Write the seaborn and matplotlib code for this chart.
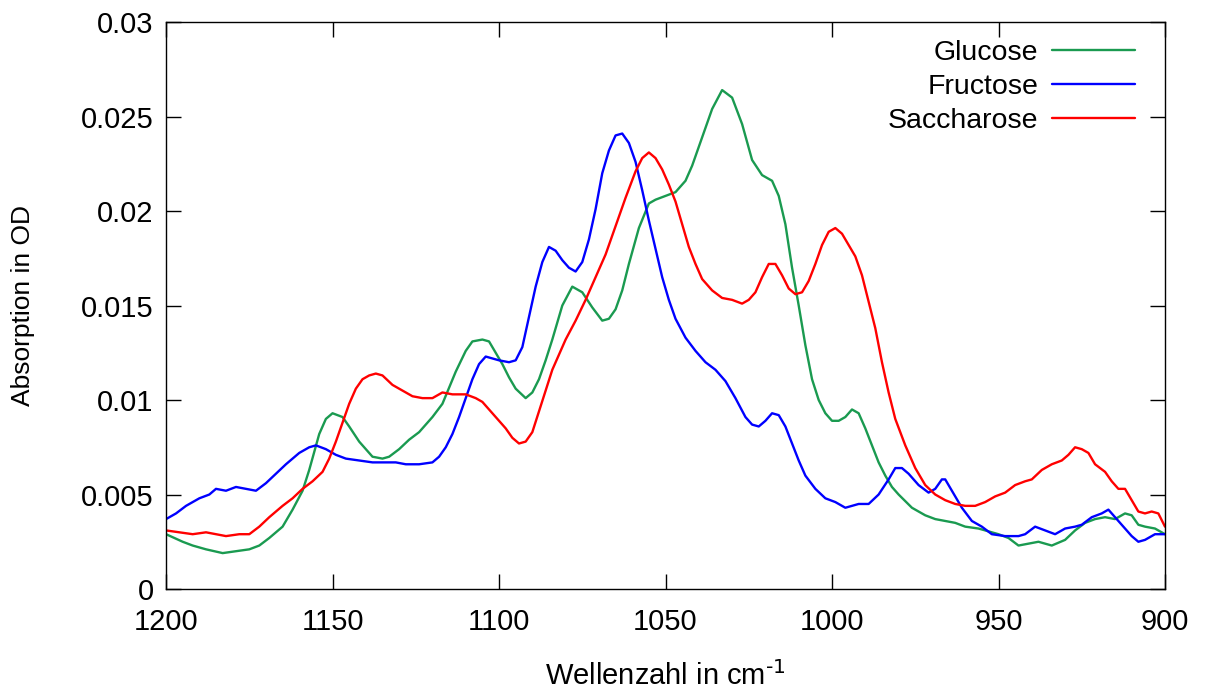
'''IR-Spektren von Glucose, Fructose und Saccharose'''

import matplotlib
matplotlib.use('Agg')
import matplotlib.pyplot as plt
from matplotlib.ticker import FuncFormatter, MultipleLocator
import seaborn as sns
import pandas as pd

# Glucose (gruen)
wn_glc = [1200, 1195, 1192, 1188, 1183, 1179, 1175, 1172, 1169, 1165, 1162, 1159, 1157, 1154,
          1152, 1150, 1147, 1145, 1142, 1138, 1135, 1133, 1130, 1127, 1124, 1120, 1117, 1113,
          1110, 1108, 1105, 1103, 1101, 1099, 1097, 1095, 1092, 1090, 1088, 1086, 1084, 1081,
          1078, 1075, 1072, 1069, 1067, 1065, 1063, 1061, 1058, 1055, 1053, 1050, 1047, 1044,
          1042, 1040, 1038, 1036, 1033, 1030, 1027, 1024, 1021, 1018, 1016, 1014, 1012, 1010,
          1008, 1006, 1004, 1002, 1000, 998, 996, 994, 992, 990, 988, 986, 984, 982, 980, 976,
          972, 969, 966, 963, 960, 956, 952, 950, 947, 944, 941, 938, 934, 930, 927, 924, 921,
          918, 915, 912, 910, 908, 906, 903, 900]
od_glc = [0.0029, 0.0025, 0.0023, 0.0021, 0.0019, 0.0020, 0.0021, 0.0023, 0.0027, 0.0033, 0.0042,
          0.0052, 0.0063, 0.0082, 0.0090, 0.0093, 0.0091, 0.0086, 0.0078, 0.0070, 0.0069, 0.0070,
          0.0074, 0.0079, 0.0083, 0.0091, 0.0098, 0.0115, 0.0126, 0.0131, 0.0132, 0.0131, 0.0125,
          0.0119, 0.0112, 0.0106, 0.0101, 0.0104, 0.0111, 0.0121, 0.0132, 0.0150, 0.0160, 0.0157,
          0.0149, 0.0142, 0.0143, 0.0148, 0.0158, 0.0172, 0.0191, 0.0204, 0.0206, 0.0208, 0.0210,
          0.0216, 0.0224, 0.0234, 0.0244, 0.0254, 0.0264, 0.0260, 0.0246, 0.0227, 0.0219, 0.0216,
          0.0208, 0.0193, 0.0170, 0.0150, 0.0129, 0.0111, 0.0100, 0.0093, 0.0089, 0.0089, 0.0091,
          0.0095, 0.0093, 0.0085, 0.0076, 0.0067, 0.0060, 0.0054, 0.0050, 0.0043, 0.0039, 0.0037,
          0.0036, 0.0035, 0.0033, 0.0032, 0.0030, 0.0029, 0.0027, 0.0023, 0.0024, 0.0025, 0.0023,
          0.0026, 0.0031, 0.0035, 0.0037, 0.0038, 0.0037, 0.0040, 0.0039, 0.0034, 0.0033, 0.0032,
          0.0029]

# Fructose (blau)
wn_fru = [1200, 1197, 1194, 1190, 1187, 1185, 1182, 1179, 1176, 1173, 1170, 1167, 1164, 1160,
          1157, 1155, 1152, 1149, 1146, 1142, 1138, 1134, 1131, 1128, 1124, 1120, 1118, 1116,
          1114, 1112, 1110, 1108, 1106, 1104, 1102, 1100, 1097, 1095, 1093, 1091, 1089, 1087,
          1085, 1083, 1081, 1079, 1077, 1075, 1073, 1071, 1069, 1067, 1065, 1063, 1061, 1059,
          1057, 1055, 1053, 1051, 1049, 1047, 1044, 1041, 1038, 1035, 1032, 1029, 1026, 1024,
          1022, 1020, 1018, 1016, 1014, 1012, 1010, 1008, 1005, 1002, 999, 996, 994, 992, 989,
          986, 983, 981, 979, 977, 974, 971, 969, 967, 966, 964, 961, 958, 955, 952, 948, 944,
          942, 939, 936, 933, 930, 927, 925, 922, 919, 917, 915, 912, 910, 908, 906, 903, 900]
od_fru = [0.0037, 0.0040, 0.0044, 0.0048, 0.0050, 0.0053, 0.0052, 0.0054, 0.0053, 0.0052, 0.0056,
          0.0061, 0.0066, 0.0072, 0.0075, 0.0076, 0.0074, 0.0071, 0.0069, 0.0068, 0.0067, 0.0067,
          0.0067, 0.0066, 0.0066, 0.0067, 0.0070, 0.0075, 0.0082, 0.0091, 0.0101, 0.0111, 0.0119,
          0.0123, 0.0122, 0.0121, 0.0120, 0.0121, 0.0128, 0.0144, 0.0160, 0.0173, 0.0181, 0.0179,
          0.0174, 0.0170, 0.0168, 0.0173, 0.0185, 0.0201, 0.0220, 0.0232, 0.0240, 0.0241, 0.0236,
          0.0226, 0.0211, 0.0195, 0.0180, 0.0165, 0.0153, 0.0143, 0.0133, 0.0126, 0.0120, 0.0116,
          0.0110, 0.0101, 0.0091, 0.0087, 0.0086, 0.0089, 0.0093, 0.0092, 0.0086, 0.0077, 0.0068,
          0.0060, 0.0053, 0.0048, 0.0046, 0.0043, 0.0044, 0.0045, 0.0045, 0.0050, 0.0058, 0.0064,
          0.0064, 0.0061, 0.0055, 0.0051, 0.0053, 0.0058, 0.0058, 0.0052, 0.0043, 0.0036, 0.0033,
          0.0029, 0.0028, 0.0028, 0.0029, 0.0033, 0.0031, 0.0029, 0.0032, 0.0033, 0.0034, 0.0038,
          0.0040, 0.0042, 0.0038, 0.0032, 0.0028, 0.0025, 0.0026, 0.0029, 0.0029]

# Saccharose (rot)
wn_sac = [1200, 1196, 1192, 1188, 1185, 1182, 1178, 1175, 1172, 1169, 1165, 1162, 1159, 1156,
          1153, 1151, 1149, 1147, 1145, 1143, 1141, 1139, 1137, 1135, 1132, 1129, 1126, 1123,
          1120, 1117, 1114, 1110, 1107, 1105, 1103, 1101, 1098, 1096, 1094, 1092, 1090, 1088,
          1086, 1084, 1082, 1080, 1077, 1074, 1071, 1068, 1065, 1062, 1059, 1057, 1055, 1053,
          1051, 1049, 1047, 1045, 1043, 1041, 1039, 1036, 1033, 1030, 1027, 1025, 1023, 1021,
          1019, 1017, 1015, 1013, 1011, 1009, 1007, 1005, 1003, 1001, 999, 997, 995, 993, 991,
          989, 987, 985, 983, 981, 978, 975, 972, 969, 966, 963, 960, 957, 954, 951, 948, 945,
          942, 940, 937, 934, 931, 929, 927, 925, 923, 921, 918, 916, 914, 912, 910, 908, 906,
          904, 902, 900]
od_sac = [0.0031, 0.0030, 0.0029, 0.0030, 0.0029, 0.0028, 0.0029, 0.0029, 0.0033, 0.0038, 0.0044,
          0.0048, 0.0053, 0.0057, 0.0062, 0.0069, 0.0078, 0.0088, 0.0098, 0.0106, 0.0111, 0.0113,
          0.0114, 0.0113, 0.0108, 0.0105, 0.0102, 0.0101, 0.0101, 0.0104, 0.0103, 0.0103, 0.0101,
          0.0099, 0.0095, 0.0091, 0.0085, 0.0080, 0.0077, 0.0078, 0.0083, 0.0094, 0.0105, 0.0116,
          0.0124, 0.0132, 0.0142, 0.0153, 0.0165, 0.0177, 0.0192, 0.0207, 0.0221, 0.0228, 0.0231,
          0.0228, 0.0222, 0.0214, 0.0205, 0.0193, 0.0181, 0.0172, 0.0164, 0.0158, 0.0154, 0.0153,
          0.0151, 0.0153, 0.0157, 0.0165, 0.0172, 0.0172, 0.0166, 0.0159, 0.0156, 0.0157, 0.0163,
          0.0172, 0.0182, 0.0189, 0.0191, 0.0188, 0.0182, 0.0176, 0.0166, 0.0152, 0.0138, 0.0120,
          0.0104, 0.0090, 0.0076, 0.0064, 0.0055, 0.0050, 0.0047, 0.0045, 0.0044, 0.0044, 0.0046,
          0.0049, 0.0051, 0.0055, 0.0057, 0.0058, 0.0063, 0.0066, 0.0068, 0.0071, 0.0075, 0.0074,
          0.0072, 0.0066, 0.0062, 0.0057, 0.0053, 0.0053, 0.0047, 0.0041, 0.0040, 0.0041, 0.0040,
          0.0033]

names = ['Glucose', 'Fructose', 'Saccharose']
colors = ['#1a9a50', '#0000ff', '#ff0000']

#Build long-form table
frames = []
for name, wn, od in zip(names, [wn_glc, wn_fru, wn_sac], [od_glc, od_fru, od_sac]):
    frames.append(pd.DataFrame({'Wellenzahl': wn, 'OD': od, 'Zucker': name}))
df = pd.concat(frames, ignore_index=True)

#Style
sns.set_style('ticks')
plt.rcParams['font.family'] = ['Liberation Sans', 'DejaVu Sans']
plt.rcParams['axes.linewidth'] = 1.0
plt.rcParams['text.color'] = 'black'
plt.rcParams['axes.labelcolor'] = 'black'

fig = plt.figure(figsize=(12.05, 6.95), dpi=100)
ax = fig.add_axes([0.1378, 0.1525, 0.829, 0.8158])

sns.lineplot(data=df, x='Wellenzahl', y='OD', hue='Zucker', hue_order=names,
             palette=colors, linewidth=1.7, ax=ax, legend=False)

ax.set_xlim(1200, 900)
ax.set_ylim(0, 0.03)
ax.xaxis.set_major_locator(MultipleLocator(50))
ax.yaxis.set_major_locator(MultipleLocator(0.005))
ax.yaxis.set_major_formatter(FuncFormatter(lambda v, p: '%g' % round(v, 4)))
ax.tick_params(direction='in', length=11, width=1, top=True, right=True,
               labelsize=21, colors='black')
ax.tick_params(axis='x', pad=14)
ax.tick_params(axis='y', pad=9)
for s in ax.spines.values():
    s.set_color('black')

ax.set_xlabel('Wellenzahl in cm$^{\\text{-}1}$', fontsize=21, labelpad=18)
ax.set_ylabel('Absorption in OD', fontsize=19, labelpad=33)

#Legend with text left of the line sample
handles = [plt.Line2D([], [], color=c, linewidth=1.7) for c in colors]
ax.legend(handles, names, loc='upper right', bbox_to_anchor=(0.970, 0.968),
          frameon=False, markerfirst=False, handlelength=2.9, handletextpad=0.5,
          labelspacing=0.28, borderpad=0, borderaxespad=0, fontsize=20.5)

plt.savefig('out.png', dpi=100)
